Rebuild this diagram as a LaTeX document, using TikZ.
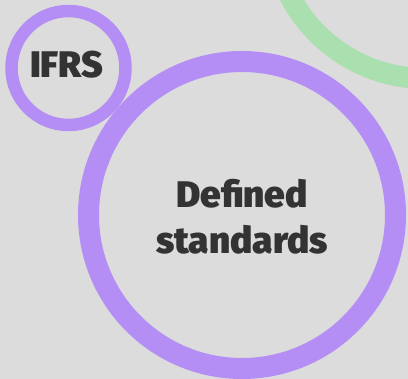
\documentclass[tikz,border=0pt]{standalone}
\usepackage{fontspec}
\newfontfamily\heavy{Fira Sans Black}
\definecolor{bg}{HTML}{DCDCDC}
\definecolor{purp}{HTML}{B48EF5}
\definecolor{grn}{HTML}{AADFB0}
\definecolor{ink}{HTML}{333333}
\begin{document}
\begin{tikzpicture}[x=1pt,y=-1pt,
  ring/.style={circle,draw=purp,inner sep=0pt,minimum size=#1},
  lbl/.style={anchor=base,text=ink,font=\heavy\fontsize{37}{37}\selectfont,inner sep=0pt}]
\useasboundingbox (0,0) rectangle (408,379);
\fill[bg] (0,0) rectangle (408,379);
\draw[grn,line width=21] (425.8,-75) circle[radius=153.5];
\node[ring=114,line width=12.5] (small) at (68.5,68) {};
\node[ring=307,line width=21] (big) at (242,215) {};
\node[lbl] (ifrs) at (66.7,77.3) {IFRS};
\node[lbl] (def) at (242,207.3) {Defined};
\node[lbl] (std) at (242,253.3) {standards};
\end{tikzpicture}
\end{document}
